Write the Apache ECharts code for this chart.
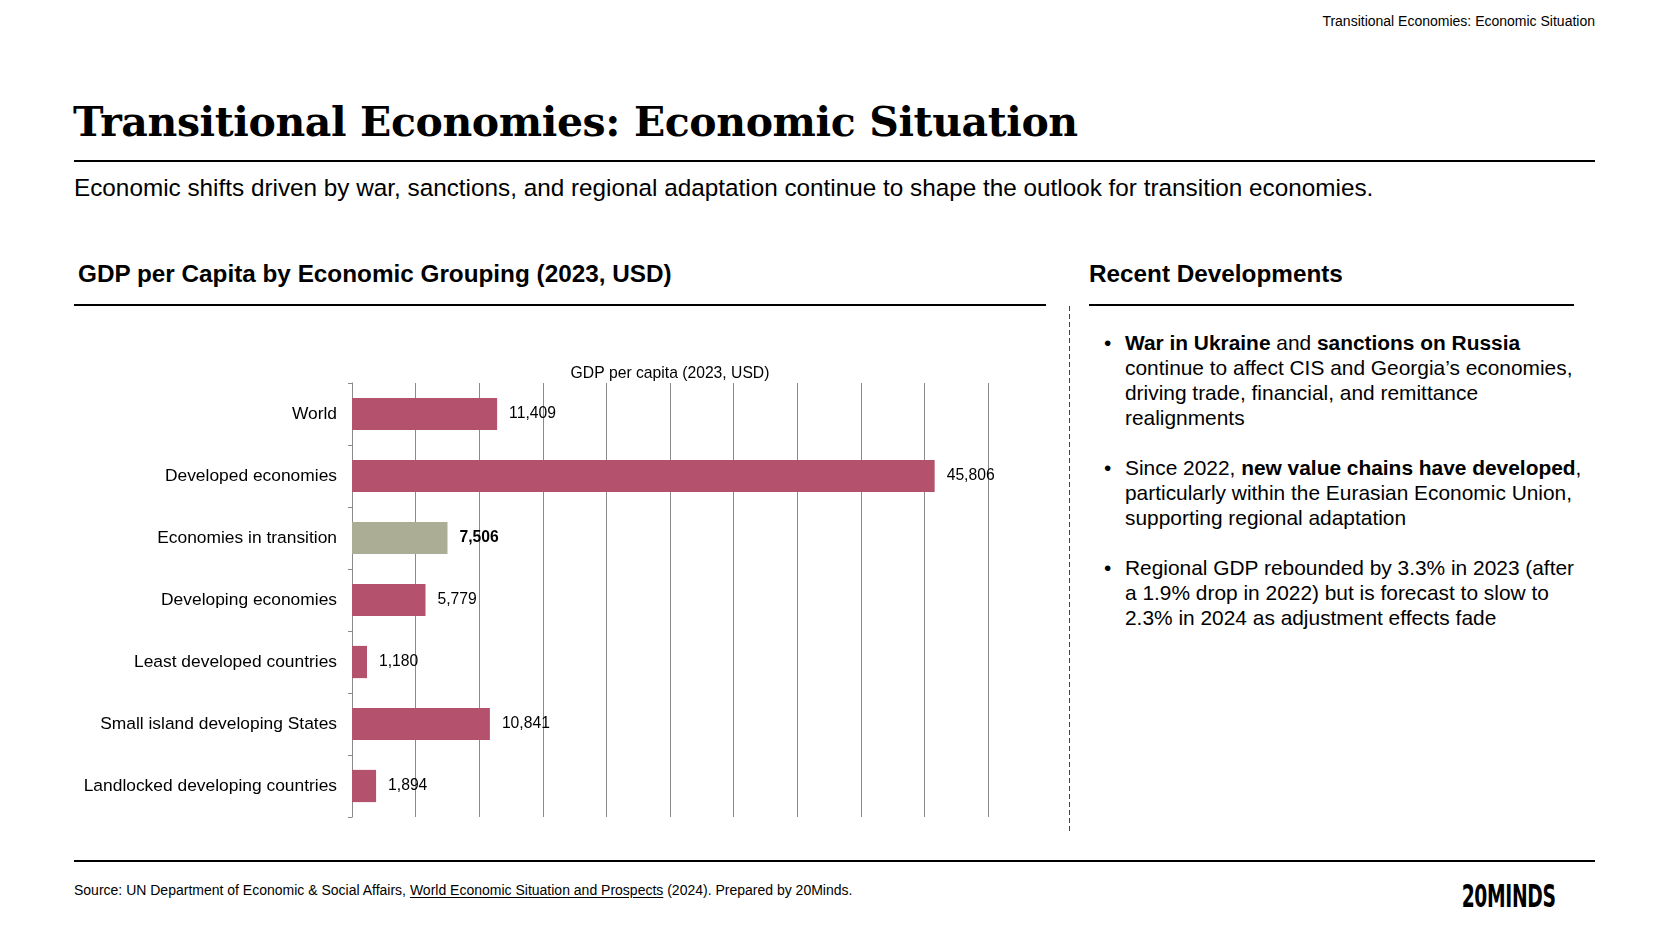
<!DOCTYPE html>
<html>
<head>
<meta charset="utf-8">
<title>Transitional Economies: Economic Situation</title>
<script src="https://cdn.jsdelivr.net/npm/echarts@6/dist/echarts.min.js"></script>
<style>
	html, body {
		margin: 0;
		padding: 0;
		background: #fff;
	}
	body {
		width: 1665px;
		height: 931px;
		position: relative;
		overflow: hidden;
		font-family: 'Liberation Sans', Arial, sans-serif;
		color: #000;
	}
	.abs { position: absolute; white-space: nowrap; }
	.top-tag { right: 70px; top: 13px; font-size: 14px; }
	.title {
		left: 73px; top: 98px;
		font-family: 'DejaVu Serif', Georgia, serif;
		font-weight: bold;
		font-size: 41px;
		letter-spacing: -0.4px;
	}
	.rule { position: absolute; background: #000; }
	.subtitle { left: 74px; top: 174px; font-size: 24.3px; }
	.section { top: 260px; font-size: 24.3px; font-weight: bold; }
	.sep {
		position: absolute; left: 1069px; top: 306px; width: 1px; height: 526px;
		background: repeating-linear-gradient(to bottom, #444 0 5px, transparent 5px 8px);
	}
	.bullets { left: 1104px; top: 330px; font-size: 20.9px; line-height: 25px; }
	.bullets p { margin: 0 0 25px 0; position: relative; padding-left: 21px; }
	.bullets p::before { content: '\2022'; position: absolute; left: 0; top: 0; }
	.source { left: 74px; top: 882px; font-size: 14px; }
	.source u { text-underline-offset: 2px; }
	.logo {
		right: 109px; top: 879px; text-align: right;
		font-family: 'DejaVu Sans Condensed', 'DejaVu Sans', sans-serif;
		font-weight: bold; font-size: 32px; line-height: 34px;
	}
	.logo span { display: inline-block; transform: scaleX(0.65); transform-origin: right center; letter-spacing: -0.5px; }
	#chart-container { position: absolute; left: 60px; top: 330px; width: 1000px; height: 510px; }
</style>
</head>
<body>
<div class="abs top-tag">Transitional Economies: Economic Situation</div>
<div class="abs title">Transitional Economies: Economic Situation</div>
<div class="rule" style="left:74px; top:160px; width:1521px; height:1.5px;"></div>
<div class="abs subtitle">Economic shifts driven by war, sanctions, and regional adaptation continue to shape the outlook for transition economies.</div>

<div class="abs section" style="left:78px;">GDP per Capita by Economic Grouping (2023, USD)</div>
<div class="rule" style="left:74px; top:304px; width:972px; height:2px;"></div>
<div class="abs section" style="left:1089px;">Recent Developments</div>
<div class="rule" style="left:1089px; top:304px; width:485px; height:2px;"></div>
<div class="sep"></div>

<div id="chart-container"></div>

<div class="abs bullets">
	<p><b>War in Ukraine</b> and <b>sanctions on Russia</b><br>continue to affect CIS and Georgia’s economies,<br>driving trade, financial, and remittance<br>realignments</p>
	<p>Since 2022, <b>new value chains have developed</b>,<br>particularly within the Eurasian Economic Union,<br>supporting regional adaptation</p>
	<p>Regional GDP rebounded by 3.3% in 2023 (after<br>a 1.9% drop in 2022) but is forecast to slow to<br>2.3% in 2024 as adjustment effects fade</p>
</div>

<div class="rule" style="left:74px; top:860px; width:1521px; height:1.5px;"></div>
<div class="abs source">Source: UN Department of Economic &amp; Social Affairs, <u>World Economic Situation and Prospects</u> (2024). Prepared by 20Minds.</div>
<div class="abs logo"><span>20MINDS</span></div>

<script>
// Chart data
var categories = [
	'World',
	'Developed economies',
	'Economies in transition',
	'Developing economies',
	'Least developed countries',
	'Small island developing States',
	'Landlocked developing countries'
];
var gdpPerCapita = [11409, 45806, 7506, 5779, 1180, 10841, 1894];
var highlightCategory = 'Economies in transition';

var barColor = '#B4526E';
var highlightColor = '#ABAE94';

var dom = document.getElementById('chart-container');
var myChart = echarts.init(dom, null, { renderer: 'canvas' });

// Highlight the transition group with a muted colour and bold label
var barData = gdpPerCapita.map(function (v, i) {
	var isHi = categories[i] === highlightCategory;
	return {
		value: v,
		itemStyle: { color: isHi ? highlightColor : barColor },
		label: { fontWeight: isHi ? 'bold' : 'normal' }
	};
});

var option = {
	animation: false,
	textStyle: {
		fontFamily: 'Liberation Sans, Arial, sans-serif',
		color: '#000'
	},
	grid: {
		left: 292,
		top: 53,
		width: 636,
		height: 434
	},
	xAxis: {
		type: 'value',
		position: 'top',
		min: 0,
		max: 50000,
		interval: 5000,
		name: 'GDP per capita (2023, USD)',
		nameLocation: 'middle',
		nameGap: 1,
		nameTextStyle: {
			fontSize: 15.7,
			color: '#000'
		},
		axisLine: { show: false },
		axisTick: { show: false },
		axisLabel: { show: false },
		splitLine: {
			show: true,
			lineStyle: { color: '#8a8a8a', width: 1 }
		}
	},
	yAxis: {
		type: 'category',
		inverse: true,
		data: categories,
		axisLine: {
			show: true,
			lineStyle: { color: '#8a8a8a', width: 1 }
		},
		axisTick: {
			show: true,
			length: 4,
			lineStyle: { color: '#8a8a8a' }
		},
		axisLabel: {
			fontSize: 17.4,
			color: '#000',
			margin: 15
		}
	},
	series: [
		{
			type: 'bar',
			data: barData,
			barCategoryGap: '48%',
			label: {
				show: true,
				position: 'right',
				distance: 12,
				fontSize: 15.7,
				color: '#000',
				formatter: function (p) {
					return p.value.toLocaleString('en-US');
				}
			}
		}
	]
};

myChart.setOption(option);
window.addEventListener('resize', myChart.resize);
</script>
</body>
</html>
